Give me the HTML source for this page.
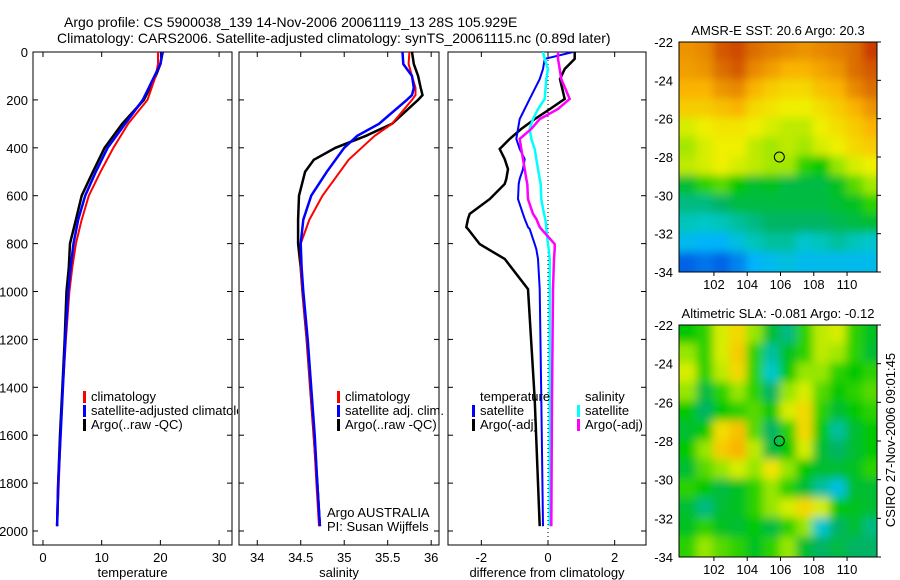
<!DOCTYPE html>
<html><head><meta charset="utf-8"><style>
html,body{margin:0;padding:0;background:#fff;}
svg{display:block;font-family:"Liberation Sans",sans-serif;}
</style></head><body>
<svg id="fig" width="900" height="580" viewBox="0 0 900 580" xmlns="http://www.w3.org/2000/svg">
<defs>
<clipPath id="c1"><rect x="33" y="52" width="199" height="493"/></clipPath>
<clipPath id="c2"><rect x="239" y="52" width="200" height="493"/></clipPath>
<clipPath id="c3"><rect x="448" y="52" width="198" height="493"/></clipPath>
<clipPath id="cleg"><rect x="33" y="380" width="205" height="60"/></clipPath>
<clipPath id="cm1"><rect x="679" y="42" width="198" height="230"/></clipPath>
<clipPath id="cm2"><rect x="679" y="325" width="198" height="232"/></clipPath>
<filter id="bl" filterUnits="userSpaceOnUse" x="600" y="0" width="300" height="580"><feGaussianBlur stdDeviation="4.5"/></filter>
</defs>
<text x="64" y="27" font-size="14">Argo profile: CS 5900038_139 14-Nov-2006 20061119_13 28S 105.929E</text>
<text x="57" y="43" font-size="14">Climatology: CARS2006. Satellite-adjusted climatology: synTS_20061115.nc (0.89d later)</text>
<g id="g"></g>
</svg>
<script>
// ---- profile data ----
const tDepth = [0,50,100,200,300,400,500,600,700,800,900,1000,1200,1400,1600,1800,1980];
const tClim  = [19.6,19.6,19.2,17.8,14.5,12,9.8,7.8,6.6,5.6,5,4.5,3.9,3.4,3,2.7,2.4];
const tSat   = [20.3,20,19,17,14,11,9,7.2,6,5.2,4.7,4.3,3.8,3.4,3,2.6,2.4];
const tArgo  = [20.4,20,19.2,17.2,13.5,10.5,8.5,6.6,5.6,4.6,4.4,4,3.7,3.3,2.9,2.6,2.4];
const sDepth = [0,50,100,150,180,200,300,350,400,450,500,600,700,800,900,1000,1200,1400,1600,1800,1980];
const sClim  = [35.75,35.74,35.78,35.82,35.82,35.78,35.55,35.35,35.2,35.05,34.95,34.75,34.6,34.5,34.5,34.52,34.57,34.61,34.65,34.68,34.71];
const sSat   = [35.67,35.68,35.78,35.8,35.78,35.72,35.4,35.15,35.0,34.9,34.8,34.62,34.53,34.5,34.51,34.53,34.58,34.62,34.66,34.69,34.72];
const sArgo  = [35.78,35.8,35.85,35.88,35.9,35.85,35.55,35.25,34.9,34.65,34.55,34.48,34.47,34.47,34.5,34.52,34.57,34.61,34.65,34.69,34.72];
const dDepth   = [0,29,71,113,196,238,280,321,363,405,447,489,530,551,614,676,697,731,739,802,823,864,990,1449,1980];
const dTArgo   = [0.8,0.8,0.5,0.36,0.5,0.06,-0.4,-0.8,-1.15,-1.45,-1.3,-1.2,-1.25,-1.3,-1.75,-2.35,-2.4,-2.45,-2.4,-2.05,-1.8,-1.3,-0.6,-0.4,-0.25];
const dTSat    = [0.75,-0.1,-0.15,-0.25,-0.55,-0.7,-0.85,-0.9,-0.95,-0.85,-0.7,-0.75,-0.85,-0.88,-0.9,-0.75,-0.7,-0.6,-0.55,-0.4,-0.35,-0.3,-0.25,-0.2,-0.15];
const dSSat    = [-0.15,-0.1,0.0,-0.05,-0.1,-0.3,-0.45,-0.55,-0.5,-0.4,-0.35,-0.3,-0.25,-0.22,-0.2,-0.12,-0.08,-0.05,-0.05,0.0,0.02,0.05,0.05,0.05,0.05];
const dSArgo   = [0.3,0.3,0.35,0.4,0.65,0.3,-0.25,-0.5,-0.85,-0.8,-0.75,-0.7,-0.65,-0.62,-0.6,-0.45,-0.35,-0.25,-0.2,0.2,0.2,0.18,0.15,0.12,0.1];
const depthTicks = [0,200,400,600,800,1000,1200,1400,1600,1800,2000];
const tTicks = [0,10,20,30];
const sTicks = [34,34.5,35,35.5,36];
const dTicks = [-2,0,2];
// ---- map data (colour index 0..1), rows lat -22..-34, cols lon 100..112 ----
const sstGrid = [
[0.78,0.8,0.88,0.9,0.85,0.82,0.8,0.78,0.8,0.82,0.85,0.92],
[0.76,0.78,0.85,0.88,0.8,0.76,0.72,0.72,0.75,0.78,0.85,0.88],
[0.72,0.72,0.78,0.8,0.72,0.68,0.66,0.66,0.7,0.72,0.8,0.85],
[0.68,0.68,0.7,0.72,0.66,0.64,0.62,0.62,0.65,0.68,0.72,0.78],
[0.6,0.62,0.64,0.64,0.62,0.6,0.58,0.58,0.62,0.65,0.68,0.72],
[0.56,0.6,0.62,0.62,0.58,0.56,0.58,0.56,0.6,0.62,0.66,0.68],
[0.58,0.6,0.62,0.6,0.58,0.56,0.56,0.5,0.48,0.55,0.6,0.62],
[0.45,0.5,0.52,0.48,0.45,0.46,0.44,0.44,0.44,0.46,0.52,0.56],
[0.4,0.4,0.42,0.44,0.44,0.44,0.44,0.44,0.44,0.45,0.46,0.5],
[0.36,0.35,0.36,0.38,0.4,0.42,0.42,0.42,0.42,0.43,0.44,0.45],
[0.3,0.28,0.28,0.32,0.36,0.38,0.38,0.34,0.36,0.38,0.36,0.34],
[0.15,0.18,0.15,0.2,0.28,0.3,0.32,0.3,0.3,0.3,0.3,0.3]];
const slaGrid = [
[0.48,0.5,0.6,0.66,0.55,0.45,0.4,0.5,0.58,0.6,0.5,0.46],
[0.55,0.5,0.6,0.68,0.5,0.38,0.46,0.5,0.58,0.56,0.5,0.45],
[0.6,0.5,0.58,0.66,0.5,0.35,0.48,0.55,0.55,0.5,0.48,0.5],
[0.55,0.44,0.5,0.55,0.5,0.42,0.55,0.6,0.52,0.48,0.5,0.52],
[0.48,0.42,0.48,0.5,0.52,0.48,0.6,0.66,0.5,0.45,0.48,0.5],
[0.45,0.48,0.65,0.7,0.52,0.42,0.5,0.66,0.48,0.38,0.45,0.48],
[0.48,0.55,0.68,0.72,0.58,0.44,0.48,0.6,0.45,0.42,0.45,0.48],
[0.45,0.52,0.55,0.6,0.55,0.64,0.55,0.48,0.45,0.45,0.46,0.5],
[0.5,0.48,0.44,0.46,0.5,0.55,0.5,0.45,0.38,0.32,0.45,0.45],
[0.45,0.4,0.45,0.46,0.5,0.55,0.6,0.66,0.6,0.48,0.46,0.45],
[0.46,0.5,0.46,0.45,0.48,0.44,0.5,0.55,0.34,0.42,0.45,0.4],
[0.5,0.55,0.52,0.5,0.46,0.5,0.55,0.45,0.42,0.44,0.42,0.42]];
const latTicks = [-22,-24,-26,-28,-30,-32,-34];
const lonTicks = [102,104,106,108,110];
const argoPos = [105.93,-28];

const NS="http://www.w3.org/2000/svg";
const G=document.getElementById('g');
function el(t,a,p){const e=document.createElementNS(NS,t);for(const k in a)e.setAttribute(k,a[k]);(p||G).appendChild(e);return e;}
const Y0=52, YS=0.2395;
const yD=d=>Y0+d*YS;
function panel(x0,x1,v0,v1,name){return {x0,x1,sx:v=>x0+(v-v0)/(v1-v0)*(x1-x0),name};}
const P1=panel(33,232,-1.7,32.2,'temperature');
const P2=panel(239,439,33.79,36.09,'salinity');
const P3=panel(448,646,-3.0,2.94,'difference');
function frame(P,xt,lab,showY){
  const g=el('g',{});
  
  
  const r=el('rect',{x:P.x0,y:Y0,width:P.x1-P.x0,height:545-Y0,fill:'none',stroke:'#000','stroke-width':1},g);
  
  
  xt.forEach(v=>{const x=P.sx(v);
    el('line',{x1:x,x2:x,y1:545,y2:540,stroke:'#000'},g);el('line',{x1:x,x2:x,y1:Y0,y2:Y0+5,stroke:'#000'},g);
    const t=el('text',{x:x,y:562,'font-size':13,'text-anchor':'middle'},g);t.textContent=v;
    
    });
  depthTicks.forEach(d=>{const y=yD(d);
    el('line',{x1:P.x0,x2:P.x0+5,y1:y,y2:y,stroke:'#000'},g);el('line',{x1:P.x1,x2:P.x1-5,y1:y,y2:y,stroke:'#000'},g);
    if(showY){const t=el('text',{x:28,y:y+5,'font-size':13,'text-anchor':'end'},g);t.textContent=d;
      
      }});
  const t=el('text',{x:(P.x0+P.x1)/2,y:577,'font-size':13,'text-anchor':'middle'},g);t.textContent=lab;
  
  
}
function line(P,vals,deps,col,w,name,clip){
  const pts=vals.map((v,i)=>P.sx(v).toFixed(1)+','+yD(deps[i]).toFixed(1)).join(' ');
  const l=el('polyline',{points:pts,fill:'none',stroke:col,'stroke-width':w,'clip-path':'url(#'+clip+')'});
  
  
}
frame(P1,tTicks,'temperature',true);
frame(P2,sTicks,'salinity',false);
frame(P3,dTicks,'difference from climatology',false);
line(P1,tArgo,tDepth,'#000',2.5,'temp-argo-line','c1');
line(P1,tClim,tDepth,'#f00',2,'temp-clim-line','c1');
line(P1,tSat,tDepth,'#00f',2.5,'temp-sat-line','c1');
line(P2,sArgo,sDepth,'#000',2.5,'sal-argo-line','c2');
line(P2,sClim,sDepth,'#f00',2,'sal-clim-line','c2');
line(P2,sSat,sDepth,'#00f',2.5,'sal-sat-line','c2');
el('line',{x1:P3.sx(0),x2:P3.sx(0),y1:Y0,y2:545,stroke:'#000','stroke-dasharray':'1,3'});
line(P3,dTArgo,dDepth,'#000',2.5,'diff-temp-argo-line','c3');
line(P3,dTSat,dDepth,'#00f',2,'diff-temp-sat-line','c3');
line(P3,dSSat,dDepth,'#0ff',2.5,'diff-sal-sat-line','c3');
line(P3,dSArgo,dDepth,'#f0f',2.5,'diff-sal-argo-line','c3');
function legend(x,y,items,pname,clip){
  const g=el('g',clip?{'clip-path':'url(#'+clip+')'}:{});
  items.forEach((it,i)=>{
  const yy=y+i*14;
  if(it[1]){el('rect',{x:x,y:yy-10,width:3,height:12,fill:it[1]},g);}
  const t=el('text',{x:x+8,y:yy,'font-size':13},g);t.textContent=it[0];
  
  });}
legend(83,401,[['climatology','#f00'],['satellite-adjusted climatology','#00f'],['Argo(..raw -QC)','#000']],'temperature','cleg');
el('line',{x1:232,x2:232,y1:380,y2:440,stroke:'#000'});
legend(337,401,[['climatology','#f00'],['satellite adj. clim.','#00f'],['Argo(..raw -QC)','#000']],'salinity');
legend(472,401,[['temperature',null],['satellite','#00f'],['Argo(-adj)','#000']],'diff-temp');
legend(577,401,[['salinity',null],['satellite','#0ff'],['Argo(-adj)','#f0f']],'diff-sal');
let t=el('text',{x:327,y:517,'font-size':13});t.textContent='Argo AUSTRALIA';


t=el('text',{x:327,y:531,'font-size':13});t.textContent='PI: Susan Wijffels';


// ---- maps ----
const cmapStops=[[0,[0,40,160]],[0.15,[0,100,230]],[0.28,[0,180,250]],[0.35,[0,200,200]],[0.42,[0,180,100]],[0.48,[0,200,0]],[0.55,[150,230,0]],[0.62,[240,240,0]],[0.72,[250,180,0]],[0.85,[220,110,0]],[1,[180,0,0]]];
function cmap(v){
  for(let i=1;i<cmapStops.length;i++){const a=cmapStops[i-1],b=cmapStops[i];
    if(v<=b[0]){const f=Math.max(0,(v-a[0])/(b[0]-a[0]));
      return 'rgb('+a[1].map((c,k)=>Math.round(c+(b[1][k]-c)*f)).join(',')+')';}}
  return 'rgb(180,0,0)';}
function map(top,bot,grid,title,clip,name){
  const L=679,R=877,lo0=99.9,lo1=111.8;
  const sx=v=>L+(v-lo0)/(lo1-lo0)*(R-L), sy=v=>top+(-22-v)/12*(bot-top);
  const g=el('g',{'clip-path':'url(#'+clip+')'});
  
  
  const gi=el('g',{filter:'url(#bl)'},g);
  const n=grid.length,m=grid[0].length;
  grid.forEach((row,i)=>row.forEach((v,j)=>{
    let x=sx(100+j)-1,w=sx(101)-sx(100)+2,y=sy(-22-i)-1,h=sy(-23)-sy(-22)+2;
    if(j===0){x-=25;w+=25;} if(j===m-1){w+=25;}
    if(i===0){y-=25;h+=25;} if(i===n-1){h+=25;}
    const c=el('rect',{x:x,y:y,width:w,height:h,fill:cmap(v)},gi);
    
    }));
  const fr=el('rect',{x:L,y:top,width:R-L,height:bot-top,fill:'none',stroke:'#000'});
  
  
  latTicks.forEach(v=>{const y=sy(v);el('line',{x1:R,x2:R+4,y1:y,y2:y,stroke:'#000'});
    const t=el('text',{x:673,y:y+5,'font-size':13,'text-anchor':'end'});t.textContent=v;
    
    });
  lonTicks.forEach(v=>{const x=sx(v);el('line',{x1:x,x2:x,y1:bot,y2:bot+4,stroke:'#000'});
    const t=el('text',{x:x,y:bot+17,'font-size':13,'text-anchor':'middle'});t.textContent=v;
    
    });
  const tt=el('text',{x:(L+R)/2,y:top-7,'font-size':13,'text-anchor':'middle'});tt.textContent=title;
  
  
  const c=el('circle',{cx:sx(argoPos[0]),cy:sy(argoPos[1]),r:5,fill:'none',stroke:'#000'});
  
  
}
map(42,272,sstGrid,'AMSR-E SST: 20.6 Argo: 20.3','cm1','sst-map');
map(325,557,slaGrid,'Altimetric SLA: -0.081 Argo: -0.12','cm2','sla-map');
t=el('text',{x:0,y:0,'font-size':13,'text-anchor':'middle',transform:'translate(895,440) rotate(-90)'});t.textContent='CSIRO 27-Nov-2006 09:01:45';


</script>
</body></html>
